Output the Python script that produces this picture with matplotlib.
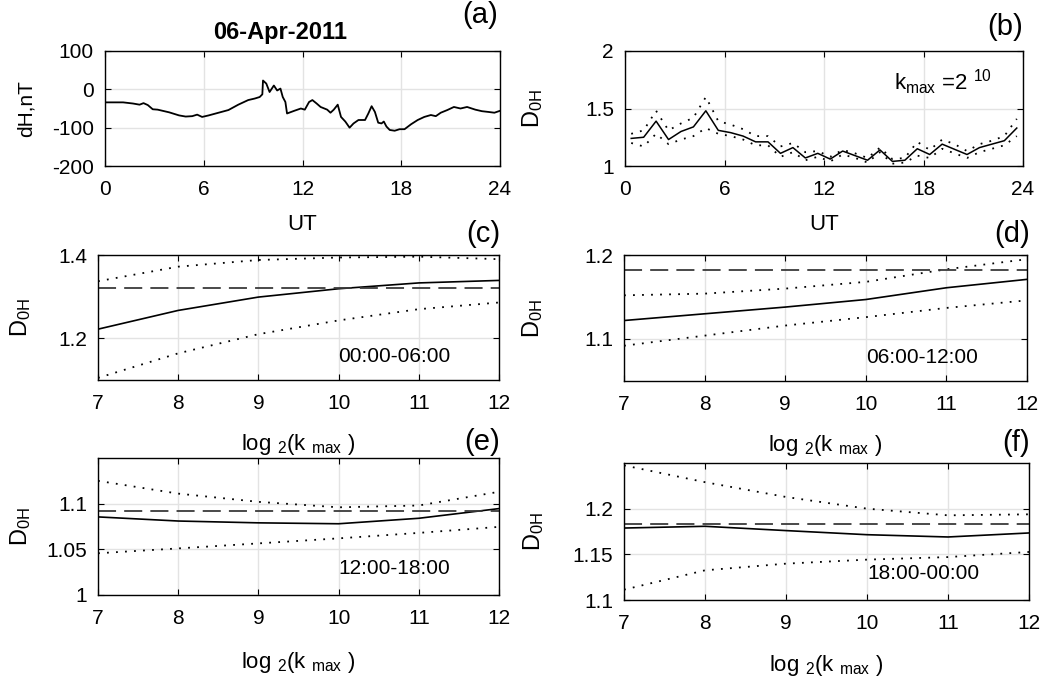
import matplotlib
matplotlib.use("Agg")
from matplotlib import pyplot as plt
from matplotlib import transforms

plt.rcParams["font.family"] = ["Liberation Sans", "DejaVu Sans"]
plt.rcParams["mathtext.fontset"] = "custom"
plt.rcParams["mathtext.rm"] = "Liberation Sans"
plt.rcParams["mathtext.it"] = "Liberation Sans"
plt.rcParams["axes.unicode_minus"] = False

# panel (a): dH time series
ut_a = [0.0, 1.1, 1.7, 2.1, 2.34, 2.6, 2.9, 3.2, 3.5, 3.9, 4.5, 4.9, 5.3, 5.6,
        5.9, 6.3, 6.9, 7.5, 8.1, 8.7, 9.1, 9.4, 9.56, 9.6, 9.8, 10.0, 10.26,
        10.46, 10.66, 10.8, 10.96, 11.06, 11.5, 11.9, 12.14, 12.4, 12.6, 12.86,
        13.1, 13.5, 13.7, 13.9, 14.14, 14.34, 14.6, 14.86, 15.1, 15.4, 15.8,
        16.0, 16.2, 16.4, 16.6, 16.8, 16.94, 17.1, 17.3, 17.6, 17.9, 18.2, 18.6,
        19.0, 19.4, 19.8, 20.1, 20.4, 20.8, 21.2, 21.6, 22.0, 22.5, 22.9, 23.3,
        23.66, 24.0]
dh_a = [-34, -34, -37, -40, -36, -41, -52, -53, -56, -60, -68, -71, -70, -66,
        -72, -68, -61, -54, -40, -28, -24, -20, -13, 23, 15, -7, 10,
        -3, 2, -20, -33, -63, -56, -50, -53, -33, -28, -37,
        -46, -53, -61, -53, -40, -72, -84, -100, -89, -80, -80,
        -63, -44, -59, -87, -89, -84, -97, -106, -108, -104, -104, -91,
        -80, -72, -67, -70, -61, -54, -46, -50, -46, -53, -57, -59,
        -61, -56]

# panel (b): D0H vs UT, kmax = 2^10
ut_b = [0.375, 1.125, 1.875, 2.625, 3.375, 4.125, 4.875, 5.625, 6.375, 7.125, 7.875,
        8.625, 9.375, 10.125, 10.875, 11.625, 12.375, 13.125, 13.875, 14.625, 15.375,
        16.125, 16.875, 17.625, 18.375, 19.125, 19.875, 20.625, 21.375, 22.125,
        22.875, 23.625]
d0h_b = [1.24, 1.25, 1.39, 1.23, 1.30, 1.34, 1.48, 1.31, 1.29, 1.26, 1.21, 1.21,
         1.11, 1.16, 1.07, 1.11, 1.06, 1.13, 1.09, 1.05, 1.14, 1.04, 1.05, 1.15,
         1.10, 1.19, 1.145, 1.10, 1.16, 1.19, 1.22, 1.33]
d0h_b_hi = [1.28, 1.31, 1.48, 1.31, 1.37, 1.42, 1.60, 1.39, 1.36, 1.32, 1.26, 1.26,
            1.17, 1.20, 1.12, 1.13, 1.08, 1.14, 1.11, 1.07, 1.16, 1.06, 1.07, 1.21,
            1.14, 1.23, 1.19, 1.13, 1.19, 1.22, 1.26, 1.41]
d0h_b_lo = [1.20, 1.17, 1.28, 1.19, 1.23, 1.26, 1.33, 1.28, 1.26, 1.23, 1.18, 1.18,
            1.08, 1.12, 1.05, 1.08, 1.04, 1.10, 1.07, 1.03, 1.12, 1.02, 1.03, 1.09,
            1.07, 1.15, 1.11, 1.07, 1.12, 1.15, 1.18, 1.26]

# panels (c)-(f): D0H vs log2(kmax)
log2k = [7, 8, 9, 10, 11, 12]
d0h_c = [1.222, 1.267, 1.299, 1.319, 1.333, 1.339]
d0h_c_hi = [1.337, 1.372, 1.388, 1.394, 1.396, 1.390]
d0h_c_lo = [1.105, 1.164, 1.210, 1.243, 1.270, 1.286]
ref_c = 1.321
d0h_d = [1.122, 1.130, 1.138, 1.147, 1.161, 1.171]
d0h_d_hi = [1.152, 1.154, 1.160, 1.168, 1.183, 1.195]
d0h_d_lo = [1.092, 1.104, 1.116, 1.126, 1.137, 1.146]
ref_d = 1.1816
d0h_e = [1.0855, 1.081, 1.079, 1.078, 1.084, 1.0946]
d0h_e_hi = [1.125, 1.111, 1.102, 1.096, 1.098, 1.113]
d0h_e_lo = [1.0457, 1.051, 1.0565, 1.062, 1.068, 1.0746]
ref_e = 1.0917
d0h_f = [1.1788, 1.1807, 1.176, 1.1715, 1.169, 1.1734]
d0h_f_hi = [1.2474, 1.229, 1.2128, 1.200, 1.1927, 1.1938]
d0h_f_lo = [1.1113, 1.1325, 1.1398, 1.1442, 1.147, 1.1526]
ref_f = 1.1828

W, H = 1062, 681
fig = plt.figure(figsize=(W / 100, H / 100), dpi=100)


def box(l, r, t, b):
    return [l / W, 1 - b / H, (r - l) / W, (b - t) / H]


def style(ax):
    ax.grid(True, color="#e3e3e3", lw=1.0)
    ax.set_axisbelow(True)
    ax.tick_params(direction="in", length=4, width=0.8, top=True, right=True,
                   labelsize=15)
    ax.tick_params(axis="x", pad=10)
    ax.tick_params(axis="y", pad=8)
    for s in ax.spines.values():
        s.set_linewidth(1.0)


DOT = (0, (1, 4))
DASH = (0, (10, 4.5))
D0H = r"D$_{\mathrm{0H}}$"
LOGK = r"log $_{\mathrm{2}}$(k $_{\mathrm{max}}$ )"

# (a)
ax = fig.add_axes(box(105, 500, 51, 166))
style(ax)
ax.plot(ut_a, dh_a, color="k", lw=1.3)
ax.set_xlim(0, 24)
ax.set_ylim(-200, 100)
ax.set_xticks([0, 6, 12, 18, 24])
ax.set_yticks([-200, -100, 0, 100])
ax.set_xlabel("UT", fontsize=16)
ax.xaxis.set_label_coords(0.5, -0.42)
ax.set_ylabel("dH,nT", fontsize=15)
ax.yaxis.set_label_coords(-0.175, 0.5)

# (b)
ax = fig.add_axes(box(625, 1023, 51, 166))
style(ax)
ax.plot(ut_b, d0h_b, color="k", lw=1.1)
ax.plot(ut_b, d0h_b_hi, color="k", lw=1.3, ls=DOT)
ax.plot(ut_b, d0h_b_lo, color="k", lw=1.3, ls=DOT)
ax.set_xlim(0, 24)
ax.set_ylim(1, 2)
ax.set_xticks([0, 6, 12, 18, 24])
ax.set_yticks([1, 1.5, 2])
ax.set_yticklabels(["1", "1.5", "2"])
ax.set_xlabel("UT", fontsize=16)
ax.xaxis.set_label_coords(0.5, -0.42)
ax.set_ylabel(D0H, fontsize=17)
ax.yaxis.set_label_coords(-0.20, 0.5)
ax.text(16.2, 1.66, r"k$_{\mathrm{max}}$ =2 $^{\mathrm{10}}$", fontsize=16)

panels = [
    (box(98, 499, 255, 380), d0h_c, d0h_c_hi, d0h_c_lo, ref_c, (1.1, 1.4),
     [1.2, 1.4], ["1.2", "1.4"], "00:00-06:00", -0.415, -0.161),
    (box(624, 1027, 255, 381), d0h_d, d0h_d_hi, d0h_d_lo, ref_d, (1.05, 1.2),
     [1.1, 1.2], ["1.1", "1.2"], "06:00-12:00", -0.413, -0.196),
    (box(98, 499, 458, 595), d0h_e, d0h_e_hi, d0h_e_lo, ref_e, (1.0, 1.15),
     [1.0, 1.05, 1.1], ["1", "1.05", "1.1"], "12:00-18:00", -0.40, -0.162),
    (box(624, 1029, 463, 600), d0h_f, d0h_f_hi, d0h_f_lo, ref_f, (1.1, 1.25),
     [1.1, 1.15, 1.2], ["1.1", "1.15", "1.2"], "18:00-00:00", -0.387, -0.193),
]
for rect, mid, hi, lo, ref, ylim, yt, ytl, span, xl, yl in panels:
    ax = fig.add_axes(rect)
    style(ax)
    ax.plot(log2k, mid, color="k", lw=1.2)
    ax.plot(log2k, hi, color="k", lw=1.3, ls=DOT)
    ax.plot(log2k, lo, color="k", lw=1.3, ls=DOT)
    ax.axhline(ref, color="#3a3a3a", lw=1.3, ls=DASH)
    ax.set_xlim(7, 12)
    ax.set_ylim(*ylim)
    ax.set_xticks(log2k)
    ax.set_yticks(yt)
    ax.set_yticklabels(ytl)
    ax.set_xlabel(LOGK, fontsize=16)
    ax.xaxis.set_label_coords(0.5, xl)
    ax.set_ylabel(D0H, fontsize=17)
    ax.yaxis.set_label_coords(yl, 0.5)
    tr = transforms.blended_transform_factory(ax.transData, ax.transAxes)
    ax.text(10.0, 0.19, span, transform=tr, fontsize=15, va="center", ha="left")

# title and panel letters
fig.text(280 / W, 1 - 32 / H, "06-Apr-2011", fontsize=17, fontweight="bold",
         ha="center", va="center")
for lab, x, y in [("(a)", 498, 15), ("(b)", 1023, 27), ("(c)", 500, 234),
                  ("(d)", 1030, 234), ("(e)", 500, 442), ("(f)", 1030, 443)]:
    fig.text(x / W, 1 - y / H, lab, fontsize=21, ha="right", va="center")

fig.savefig("out.png", dpi=100)
